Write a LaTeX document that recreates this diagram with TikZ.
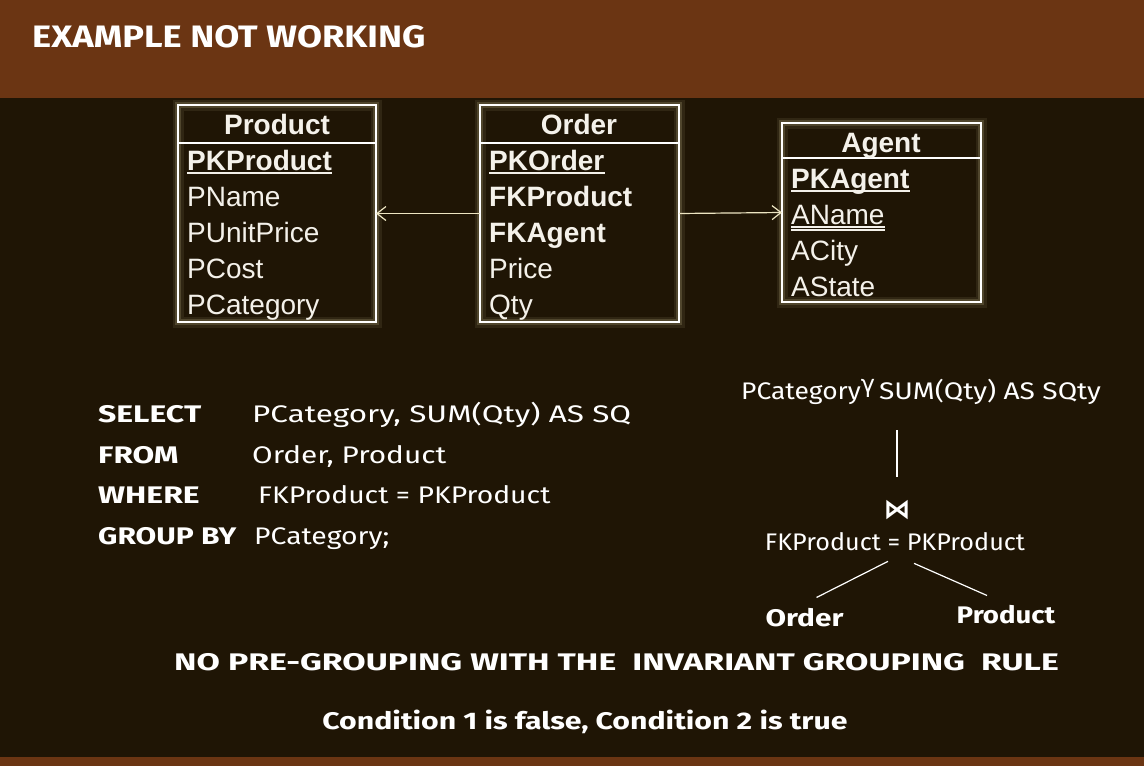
\documentclass[tikz,border=0pt]{standalone}
\usepackage{fontspec}
\usepackage{graphicx}
\setmainfont{Liberation Sans}
\newfontfamily\comic{Fira Sans}
\newfontfamily\djv{DejaVu Sans}
\usetikzlibrary{arrows.meta}
\definecolor{hdr}{HTML}{6B3513}
\definecolor{bg}{HTML}{1F1505}
\definecolor{glow}{HTML}{E6DAA8}
\definecolor{txt}{HTML}{F4F1EA}
\newcommand\hs[2]{\scalebox{#1}[1]{#2}}
\begin{document}
\begin{tikzpicture}[x=1pt,y=-1pt,
  tbox/.style={draw=white, line width=1.6pt, inner sep=0pt, outer sep=0pt, anchor=north west},
  glowA/.style={draw=glow, line width=11pt, opacity=0.09, inner sep=0pt, outer sep=0pt, anchor=north west},
  glowB/.style={draw=glow, line width=6pt, opacity=0.18, inner sep=0pt, outer sep=0pt, anchor=north west},
  tline/.style={draw=white, line width=1.6pt},
  ul/.style={draw=txt, line width=1.2pt},
  fld/.style={anchor=base west, text=txt, inner sep=0pt, font=\fontsize{28}{30}\selectfont},
  ttl/.style={anchor=base, text=txt, inner sep=0pt, font=\fontsize{28}{30}\selectfont\bfseries},
  arr/.style={draw=glow!70!white, line width=1.2pt, -{Straight Barb[length=9pt,width=14pt,line width=1.2pt]}},
  ctxt/.style={text=white, inner sep=0pt, font=\comic\fontsize{24}{26}\selectfont},
  ctxtb/.style={text=white, inner sep=0pt, font=\comic\fontsize{24}{26}\selectfont\bfseries},
  tl/.style={draw=white, line width=1.2pt}]
\fill[bg] (0,0) rectangle (1144,766);
\fill[hdr] (0,0) rectangle (1144,98);
\fill[hdr] (0,757) rectangle (1144,766);
\useasboundingbox (0,0) rectangle (1144,766);

\node[ctxtb, anchor=base west, font=\comic\fontsize{31}{33}\selectfont\bfseries] (title) at (32,47) {\hs{1.17}{EXAMPLE NOT WORKING}};

% glow
\foreach \g in {glowA,glowB}{
  \node[\g, minimum width=198pt, minimum height=217pt] at (178,105) {};
  \node[\g, minimum width=199pt, minimum height=217pt] at (480,105) {};
  \node[\g, minimum width=199pt, minimum height=179pt] at (782,123) {};
}
% Product table
\node[tbox, minimum width=198pt, minimum height=217pt] (prod) at (178,105) {};
\draw[tline] (prod.north west) ++(0,38) -- ++(198,0);
\node[ttl] (prodT) at (277,134) {Product};
\node[fld] (p1) at (187,170) {\bfseries PKProduct};
\node[fld] (p2) at (187,206) {PName};
\node[fld] (p3) at (187,242) {PUnitPrice};
\node[fld] (p4) at (187,278) {PCost};
\node[fld] (p5) at (187,314) {PCategory};
\draw[ul] ([yshift=-3pt]p1.base west) -- ([yshift=-3pt]p1.base east);

% Order table
\node[tbox, minimum width=199pt, minimum height=217pt] (ord) at (480,105) {};
\draw[tline] (ord.north west) ++(0,38) -- ++(199,0);
\node[ttl] (ordT) at (579,134) {Order};
\node[fld] (o1) at (489,170) {\bfseries PKOrder};
\node[fld] (o2) at (489,206) {\bfseries FKProduct};
\node[fld] (o3) at (489,242) {\bfseries FKAgent};
\node[fld] (o4) at (489,278) {Price};
\node[fld] (o5) at (489,314) {Qty};
\draw[ul] ([yshift=-3pt]o1.base west) -- ([yshift=-3pt]o1.base east);

% Agent table
\node[tbox, minimum width=199pt, minimum height=179pt] (ag) at (782,123) {};
\draw[tline] (ag.north west) ++(0,35) -- ++(199,0);
\node[ttl] (agT) at (881,152) {Agent};
\node[fld] (a1) at (791,188) {\bfseries PKAgent};
\node[fld] (a2) at (791,224) {AName};
\node[fld] (a3) at (791,260) {ACity};
\node[fld] (a4) at (791,296) {AState};
\draw[ul] ([yshift=-3pt]a1.base west) -- ([yshift=-3pt]a1.base east);
\draw[ul] ([yshift=-3pt]a2.base west) -- ([yshift=-3pt]a2.base east);
\draw[ul] ([yshift=-6pt]a2.base west) -- ([yshift=-6pt]a2.base east);

\draw[arr] (ord.west) -- (prod.east);
\draw[arr] (ord.east) -- (ag.west);

% SQL
\node[ctxtb, anchor=base west] (s1) at (98,422) {\hs{1.33}{SELECT}};
\node[ctxt, anchor=base west] (s1v) at (252,422) {\hs{1.31}{PCategory, SUM(Qty) AS SQ}};
\node[ctxtb, anchor=base west] (s2) at (98,463) {\hs{1.31}{FROM}};
\node[ctxt, anchor=base west] (s2v) at (252,463) {\hs{1.24}{Order, Product}};
\node[ctxtb, anchor=base west] (s3) at (98,503) {\hs{1.33}{WHERE}};
\node[ctxt, anchor=base west] (s3v) at (258,503) {\hs{1.18}{FKProduct = PKProduct}};
\node[ctxtb, anchor=base west] (s4) at (98,544) {\hs{1.25}{GROUP BY}};
\node[ctxt, anchor=base west] (s4v) at (254,544) {\hs{1.18}{PCategory;}};

% tree
\node[ctxt, anchor=base west] (gam) at (741,399) {\hs{1.1}{PCategory}\raisebox{7pt}{\djv\fontsize{24}{24}\selectfont γ}\,\hs{1.17}{SUM(Qty) AS SQty}};
\node[text=white, inner sep=0pt, font=\djv\fontsize{27}{29}\selectfont\bfseries] (join) at (897,510) {⋈};
\node[ctxt] (cond) at (895,542) {\hs{1.05}{FKProduct = PKProduct}};
\node[ctxtb] (lo) at (804.5,618) {\hs{1.24}{Order}};
\node[ctxtb] (lp) at (1006,615) {\hs{1.15}{Product}};
\draw[tl] ([yshift=70pt]join.north) -- ([yshift=23pt]join.north);
\draw[tl] ([shift={(-7pt,-10pt)}]cond.south) -- ([shift={(12pt,11pt)}]lo.north);
\draw[tl] ([shift={(19pt,-12pt)}]cond.south) -- ([shift={(-19pt,10pt)}]lp.north);

\node[ctxtb] (rule) at (616.5,662) {\hs{1.41}{NO PRE-GROUPING WITH THE\ \ INVARIANT GROUPING\ \ RULE}};
\node[ctxtb] (concl) at (585,722) {\hs{1.26}{Condition 1 is false, Condition 2 is true}};
\end{tikzpicture}
\end{document}
